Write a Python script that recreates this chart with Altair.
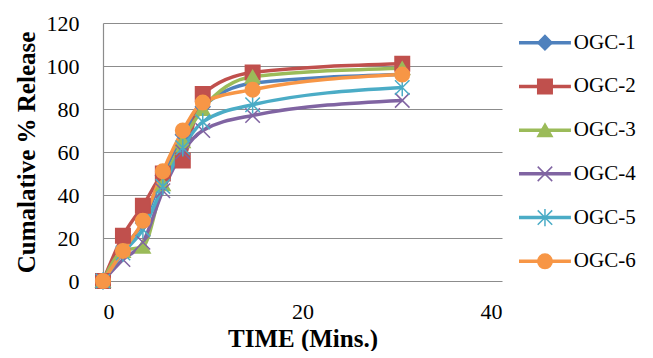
import altair as alt
import pandas as pd

times = [0, 2, 4, 6, 8, 10, 15, 30]
series_names = ["OGC-1", "OGC-2", "OGC-3", "OGC-4", "OGC-5", "OGC-6"]
ogc1 = [0, 15, 27, 49, 68, 81, 92, 96]
ogc2 = [0, 21, 35, 50, 56, 87, 97, 101]
ogc3 = [0, 14, 16, 45, 65, 80, 95, 99]
ogc4 = [0, 10, 18, 42, 60, 70, 77, 84]
ogc5 = [0, 13, 24, 44, 62, 74, 82, 90]
ogc6 = [0, 14, 28, 51, 70, 83, 89, 96]
colors = ["#4F81BD", "#C0504D", "#9BBB59", "#8064A2", "#4BACC6", "#F79646"]
shapes = ["diamond", "square", "triangle-up",
          "M-1,-1L1,1M-1,1L1,-1",
          "M-1,-1L1,1M-1,1L1,-1M0,-1.2L0,1.2",
          "circle"]

rows = []
for name, vals in zip(series_names, [ogc1, ogc2, ogc3, ogc4, ogc5, ogc6]):
    for t, v in zip(times, vals):
        rows.append({"series": name, "time": t, "release": v, "ord": series_names.index(name)})
df = pd.DataFrame(rows)

FONT = "Liberation Serif, Times New Roman, serif"
cscale = alt.Scale(domain=series_names, range=colors)
sscale = alt.Scale(domain=series_names, range=shapes)

base = alt.Chart(df)
x = alt.X("time:Q", scale=alt.Scale(domain=[0, 40]),
          axis=alt.Axis(values=[0, 20, 40], title="TIME (Mins.)", grid=False,
                        domain=False, ticks=False, labelPadding=20,
                        titlePadding=4))
y = alt.Y("release:Q", scale=alt.Scale(domain=[0, 120]),
          axis=alt.Axis(values=[0, 20, 40, 60, 80, 100, 120], title="Cumalative % Release",
                        grid=True, gridColor="#8c8c8c", gridWidth=1.2,
                        domainColor="#8c8c8c", domainWidth=1.2, ticks=False,
                        labelPadding=24, titlePadding=7))

lines = base.mark_line(interpolate="monotone", strokeWidth=3.5).encode(
    x=x, y=y,
    color=alt.Color("series:N", scale=cscale, legend=None),
    order=alt.Order("time:Q"),
)
points = base.mark_point(filled=True, size=210, strokeWidth=1.5, opacity=1).encode(
    x="time:Q", y="release:Q",
    fill=alt.Fill("series:N", scale=cscale, legend=None),
    stroke=alt.Stroke("series:N", scale=cscale, legend=None),
    shape=alt.Shape("series:N", scale=sscale, legend=None),
    order=alt.Order("ord:Q"),
)
main = alt.layer(lines, points).properties(width=399, height=258)

leg_df = pd.DataFrame({"series": series_names, "x0": [0] * 6, "x1": [54] * 6,
                       "xm": [27] * 6, "xt": [57] * 6})
lx = alt.Scale(domain=[0, 130])
ly = alt.Y("series:N", scale=alt.Scale(domain=series_names, type="point", padding=0.45), axis=None)
lb = alt.Chart(leg_df)
leg_line = lb.mark_rule(strokeWidth=3.5).encode(
    x=alt.X("x0:Q", scale=lx, axis=None), x2="x1:Q", y=ly,
    color=alt.Color("series:N", scale=cscale, legend=None))
leg_pt = lb.mark_point(filled=True, size=210, strokeWidth=1.5, opacity=1).encode(
    x=alt.X("xm:Q", scale=lx, axis=None), y=ly,
    fill=alt.Fill("series:N", scale=cscale, legend=None),
    stroke=alt.Stroke("series:N", scale=cscale, legend=None),
    shape=alt.Shape("series:N", scale=sscale, legend=None))
leg_txt = lb.mark_text(align="left", baseline="middle", font=FONT, fontSize=21, color="black").encode(
    x=alt.X("xt:Q", scale=lx, axis=None), y=ly, text="series:N")
legend = alt.layer(leg_line, leg_pt, leg_txt).properties(width=125, height=258)

chart = alt.hconcat(main, legend, spacing=15).properties(
    padding={"left": 13, "top": 12, "right": 0, "bottom": 0},
    background="white",
).configure_view(stroke=None).configure_axis(
    labelFont=FONT, labelFontSize=22, labelColor="black",
    titleFont=FONT, titleFontSize=25, titleFontWeight="bold", titleColor="black",
)

chart.save("out.html", embed_options={"renderer": "svg", "actions": False})
